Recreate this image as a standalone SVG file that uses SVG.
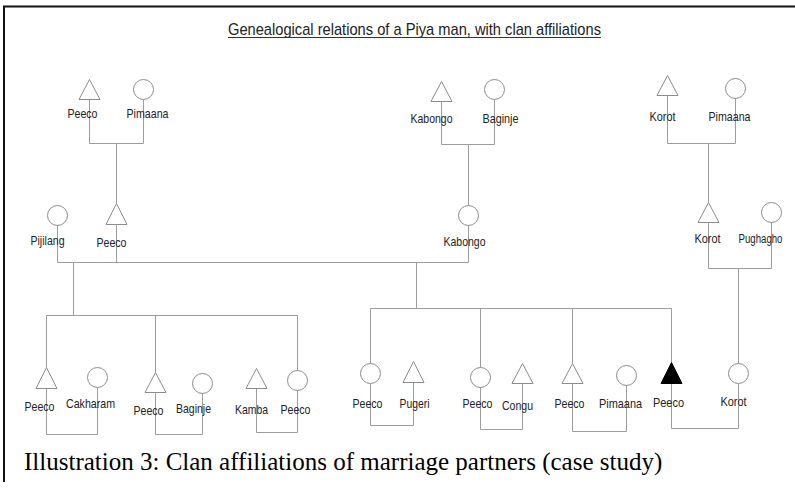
<svg xmlns="http://www.w3.org/2000/svg" width="795" height="492" viewBox="0 0 795 492">
<defs>
<style>
.ln{stroke:#9c9c9c;stroke-width:1;fill:none}
.m{fill:#fff;stroke:#8c8c8c;stroke-width:1}
.mf{fill:#000;stroke:#000;stroke-width:1}
.f{fill:#fff;stroke:#8c8c8c;stroke-width:1}
.lbl{font-family:"Liberation Sans",Arial,sans-serif;font-size:13px;fill:#222;text-anchor:middle}
.ttl{font-family:"Liberation Sans",Arial,sans-serif;font-size:17px;fill:#222}
.cap{font-family:"Liberation Serif","Times New Roman",serif;font-size:25px;fill:#000}
</style>
</defs>
<rect x="0" y="0" width="795" height="492" fill="#fff"/>
<g id="frame">
<line x1="3" y1="6.5" x2="795" y2="6.5" stroke="#111" stroke-width="2"/>
<line x1="4" y1="6" x2="4" y2="482" stroke="#111" stroke-width="2"/>
</g>
<g id="title">
<text class="ttl" x="228" y="35" textLength="373" lengthAdjust="spacingAndGlyphs">Genealogical relations of a Piya man, with clan affiliations</text>
<line x1="228" y1="37.5" x2="601" y2="37.5" stroke="#333" stroke-width="1"/>
</g>
<g transform="translate(0.5,0.5)">
<g id="connectors">
<path class="ln" d="M89,99 V143 H143 V99 M116,143 V203"/>
<path class="ln" d="M441,101 V144 H494 V99 M468,144 V205"/>
<path class="ln" d="M667,95 V143 H735 V98 M708,143 V202"/>
<path class="ln" d="M57,225 V262 H468 M116,224 V262 M468,225 V262"/>
<path class="ln" d="M708,222 V268 H771 V222 M738,268 V363"/>
<path class="ln" d="M73,262 V315 M46,315 H297 M46,315 V367 M155,315 V372 M297,315 V370"/>
<path class="ln" d="M416,262 V308 M370,308 H671 M370,308 V363 M480,308 V367 M572,308 V363 M671,308 V362"/>
<path class="ln" d="M46,388 V434 H97 V387"/>
<path class="ln" d="M155,392 V434 H202 V393"/>
<path class="ln" d="M256,388 V432 H297 V390"/>
<path class="ln" d="M370,383 V425 H413 V382"/>
<path class="ln" d="M480,387 V429 H522 V383"/>
<path class="ln" d="M572,383 V431 H626 V385"/>
<path class="ln" d="M671,383 V428 H738 V383"/>
</g>
<g id="n1"><polygon class="m" points="89,79 99.5,99 78.5,99"/><text class="lbl" x="82" y="117" textLength="30" lengthAdjust="spacingAndGlyphs">Peeco</text></g>
<g id="n2"><circle class="f" cx="143" cy="89" r="10"/><text class="lbl" x="147" y="117" textLength="42" lengthAdjust="spacingAndGlyphs">Pimaana</text></g>
<g id="n3"><polygon class="m" points="441,81 451.5,101 430.5,101"/><text class="lbl" x="431" y="122" textLength="42" lengthAdjust="spacingAndGlyphs">Kabongo</text></g>
<g id="n4"><circle class="f" cx="494" cy="89" r="10"/><text class="lbl" x="500" y="122" textLength="36" lengthAdjust="spacingAndGlyphs">Baginje</text></g>
<g id="n5"><polygon class="m" points="667,75 677.5,95 656.5,95"/><text class="lbl" x="662" y="120" textLength="26" lengthAdjust="spacingAndGlyphs">Korot</text></g>
<g id="n6"><circle class="f" cx="735" cy="88" r="10"/><text class="lbl" x="729" y="120" textLength="42" lengthAdjust="spacingAndGlyphs">Pimaana</text></g>
<g id="n7"><circle class="f" cx="57" cy="215" r="10"/><text class="lbl" x="47" y="244" textLength="34" lengthAdjust="spacingAndGlyphs">Pijilang</text></g>
<g id="n8"><polygon class="m" points="116,203 126.5,224 105.5,224"/><text class="lbl" x="111" y="246" textLength="30" lengthAdjust="spacingAndGlyphs">Peeco</text></g>
<g id="n9"><circle class="f" cx="468" cy="215" r="10"/><text class="lbl" x="464" y="245" textLength="42" lengthAdjust="spacingAndGlyphs">Kabongo</text></g>
<g id="n10"><polygon class="m" points="708,202 718.5,222 697.5,222"/><text class="lbl" x="707" y="242" textLength="26" lengthAdjust="spacingAndGlyphs">Korot</text></g>
<g id="n11"><circle class="f" cx="771" cy="212" r="10"/><text class="lbl" x="760" y="242" style="font-size:12px" textLength="44" lengthAdjust="spacingAndGlyphs">Pughagho</text></g>
<g id="n12"><polygon class="m" points="46,367 56.5,388 35.5,388"/><text class="lbl" x="39" y="410" textLength="30" lengthAdjust="spacingAndGlyphs">Peeco</text></g>
<g id="n13"><circle class="f" cx="97" cy="377" r="10"/><text class="lbl" x="90" y="407" textLength="49" lengthAdjust="spacingAndGlyphs">Cakharam</text></g>
<g id="n14"><polygon class="m" points="155,372 165.5,392 144.5,392"/><text class="lbl" x="148" y="414" textLength="30" lengthAdjust="spacingAndGlyphs">Peeco</text></g>
<g id="n15"><circle class="f" cx="202" cy="383" r="10"/><text class="lbl" x="193" y="412" textLength="35" lengthAdjust="spacingAndGlyphs">Baginje</text></g>
<g id="n16"><polygon class="m" points="256,368 266.5,388 245.5,388"/><text class="lbl" x="251" y="413" textLength="33" lengthAdjust="spacingAndGlyphs">Kamba</text></g>
<g id="n17"><circle class="f" cx="297" cy="380" r="10"/><text class="lbl" x="295" y="413" textLength="30" lengthAdjust="spacingAndGlyphs">Peeco</text></g>
<g id="n18"><circle class="f" cx="370" cy="373" r="10"/><text class="lbl" x="367" y="407" textLength="30" lengthAdjust="spacingAndGlyphs">Peeco</text></g>
<g id="n19"><polygon class="m" points="413,361 423.5,382 402.5,382"/><text class="lbl" x="414" y="407" textLength="30" lengthAdjust="spacingAndGlyphs">Pugeri</text></g>
<g id="n20"><circle class="f" cx="480" cy="377" r="10"/><text class="lbl" x="477" y="407" textLength="30" lengthAdjust="spacingAndGlyphs">Peeco</text></g>
<g id="n21"><polygon class="m" points="522,363 532.5,383 511.5,383"/><text class="lbl" x="517" y="409" textLength="31" lengthAdjust="spacingAndGlyphs">Congu</text></g>
<g id="n22"><polygon class="m" points="572,363 582.5,383 561.5,383"/><text class="lbl" x="569" y="407" textLength="30" lengthAdjust="spacingAndGlyphs">Peeco</text></g>
<g id="n23"><circle class="f" cx="626" cy="375" r="10"/><text class="lbl" x="620" y="407" textLength="43" lengthAdjust="spacingAndGlyphs">Pimaana</text></g>
<g id="n24"><polygon class="mf" points="671,362 681.5,383 660.5,383"/><text class="lbl" x="668" y="406" textLength="31" lengthAdjust="spacingAndGlyphs">Peeco</text></g>
<g id="n25"><circle class="f" cx="738" cy="373" r="10"/><text class="lbl" x="733" y="405" textLength="26" lengthAdjust="spacingAndGlyphs">Korot</text></g>
</g>
<g id="caption">
<text class="cap" x="24" y="470">Illustration 3: Clan affiliations of marriage partners (case study)</text>
</g>
</svg>
